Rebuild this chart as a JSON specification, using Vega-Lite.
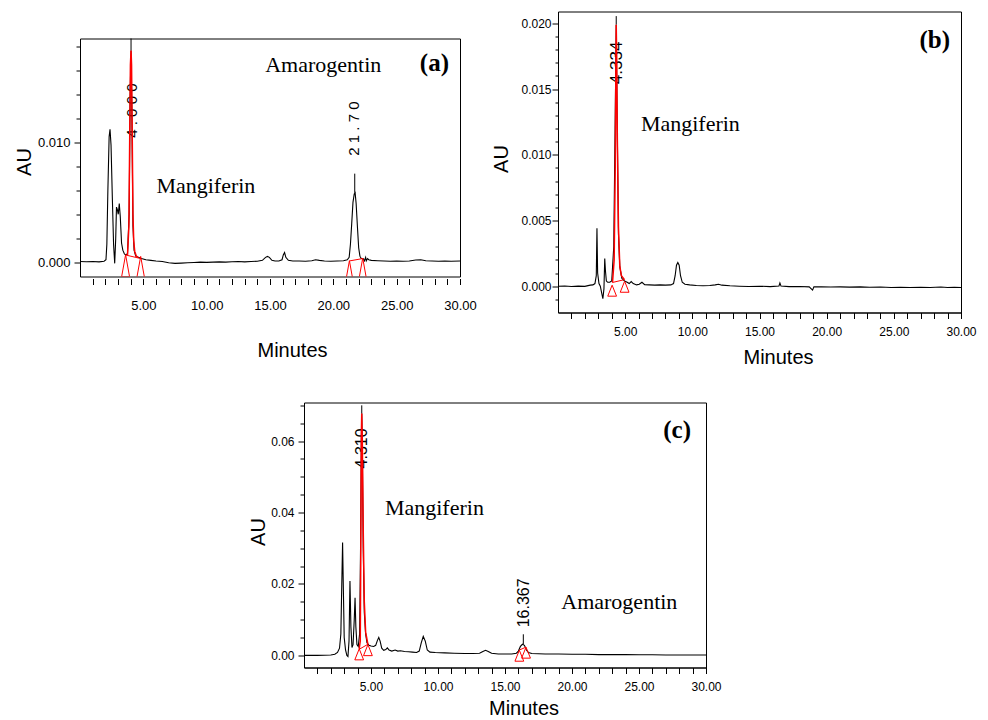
{
  "$schema": "https://vega.github.io/schema/vega-lite/v6.json",
  "padding": {"left": 13, "top": 10.5, "right": 5, "bottom": 0},
  "spacing": 30,
  "config": {
    "view": {"stroke": "#000", "strokeWidth": 1},
    "axis": {"domainColor": "#000", "tickColor": "#000", "labelColor": "#000", "titleColor": "#000", "grid": false,
      "labelFont": "Liberation Sans, Arial, sans-serif", "titleFont": "Liberation Sans, Arial, sans-serif", "titleFontWeight": "normal",
      "labelOverlap": false, "labelFlush": false}
  },
  "vconcat": [
    {
      "hconcat": [
        {
          "vconcat": [
            {"width": 1, "height": 1, "data": {"values": []}, "mark": "point", "view": {"stroke": null}},
            {
              "width": 380, "height": 238,
              "encoding": {
                "x": {"field": "t", "type": "quantitative", "scale": {"domain": [0, 30], "nice": false, "zero": false},
                  "axis": {"title": "Minutes", "values": [1,2,3,4,5,6,7,8,9,10,11,12,13,14,15,16,17,18,19,20,21,22,23,24,25,26,27,28,29,30],
                    "labelExpr": "datum.value % 5 == 0 ? format(datum.value, '.2f') : ''", "tickSize": 6, "domain": false, "offset": 2,
                    "labelFontSize": 13, "labelPadding": 15, "titleFontSize": 20, "titleX": 212, "titleY": 78, "titleBaseline": "alphabetic", "titleAlign": "center"}},
                "y": {"field": "v", "type": "quantitative", "scale": {"domain": [-0.0012, 0.0187], "nice": false, "zero": false},
                  "axis": {"title": "AU", "values": [0, 0.002, 0.004, 0.006, 0.008, 0.01, 0.012, 0.014, 0.016, 0.018],
                    "labelExpr": "(abs(datum.value) < 1e-9 || abs(datum.value - 0.01) < 1e-9) ? format(datum.value, '.3f') : ''",
                    "tickSize": {"condition": {"test": "abs(datum.value) < 1e-9 || abs(datum.value - 0.01) < 1e-9", "value": 6}, "value": 4},
                    "labelFontSize": 13, "labelPadding": 4, "titleFontSize": 20, "titleX": -50, "titleY": 123, "titleBaseline": "alphabetic", "titleAngle": 270, "titleAlign": "center"}}
              },
              "layer": [
                {"data": {"values": [
                  {"t":0,"v":0.00005},{"t":0.5,"v":0.00003},{"t":1,"v":0.00006},{"t":1.5,"v":0.00002},{"t":1.9,"v":0.00008},{"t":2.05,"v":0.0002},{"t":2.12,"v":0.0015},{"t":2.2,"v":0.006},{"t":2.3,"v":0.0105},{"t":2.37,"v":0.0111},{"t":2.45,"v":0.0098},{"t":2.55,"v":0.0055},{"t":2.65,"v":0.0015},{"t":2.74,"v":-0.0001},{"t":2.82,"v":0.002},{"t":2.88,"v":0.0046},{"t":2.95,"v":0.0044},{"t":3.02,"v":0.004},{"t":3.1,"v":0.0049},{"t":3.18,"v":0.0038},{"t":3.28,"v":0.0016},{"t":3.38,"v":0.001},{"t":3.5,"v":0.0007},{"t":3.6,"v":0.0006},{"t":3.75,"v":0.0007},{"t":3.88,"v":0.004},{"t":3.96,"v":0.014},{"t":4.03,"v":0.0177},{"t":4.1,"v":0.012},{"t":4.18,"v":0.003},{"t":4.27,"v":0.001},{"t":4.4,"v":0.0005},{"t":4.6,"v":0.0004},{"t":4.85,"v":0.0003},{"t":5.2,"v":0.0002},{"t":5.6,"v":0.00015},{"t":6,"v":0.0001},{"t":6.5,"v":0.00005},{"t":7,"v":-0.00005},{"t":7.5,"v":-0.0001},{"t":8,"v":-0.00008},{"t":8.5,"v":-0.00005},{"t":9,"v":-0.00003},{"t":9.5,"v":0},{"t":10,"v":-0.00002},{"t":10.5,"v":0},{"t":11,"v":0.00002},{"t":11.5,"v":0},{"t":12,"v":0.00003},{"t":12.5,"v":0.00005},{"t":13,"v":0.00002},{"t":13.5,"v":0.00005},{"t":14,"v":0.00008},{"t":14.4,"v":0.00015},{"t":14.65,"v":0.0004},{"t":14.8,"v":0.00048},{"t":14.95,"v":0.0004},{"t":15.15,"v":0.00015},{"t":15.4,"v":0.0001},{"t":15.7,"v":0.0001},{"t":15.95,"v":0.0002},{"t":16.05,"v":0.0006},{"t":16.15,"v":0.00081},{"t":16.25,"v":0.0004},{"t":16.45,"v":0.00015},{"t":16.8,"v":0.0001},{"t":17.3,"v":0.0001},{"t":17.8,"v":0.00008},{"t":18.3,"v":0.00012},{"t":18.6,"v":0.0002},{"t":18.9,"v":0.00015},{"t":19.3,"v":0.0001},{"t":19.8,"v":0.00008},{"t":20.3,"v":0.0001},{"t":20.8,"v":0.00012},{"t":21.1,"v":0.0002},{"t":21.25,"v":0.0004},{"t":21.35,"v":0.0015},{"t":21.45,"v":0.0032},{"t":21.55,"v":0.005},{"t":21.65,"v":0.0057},{"t":21.72,"v":0.0058},{"t":21.8,"v":0.0049},{"t":21.9,"v":0.003},{"t":22,"v":0.0012},{"t":22.1,"v":0.0005},{"t":22.2,"v":0.0003},{"t":22.35,"v":0.0003},{"t":22.45,"v":0.0001},{"t":22.55,"v":0.0004},{"t":22.6,"v":0.0001},{"t":22.7,"v":0.0003},{"t":22.8,"v":0.0002},{"t":23,"v":0.00015},{"t":23.5,"v":0.00012},{"t":24,"v":0.0001},{"t":24.5,"v":0.00008},{"t":25,"v":0.0001},{"t":25.5,"v":0.00008},{"t":26,"v":0.0001},{"t":26.5,"v":0.00018},{"t":26.9,"v":0.0002},{"t":27.3,"v":0.00012},{"t":27.8,"v":0.0001},{"t":28.3,"v":0.00008},{"t":28.8,"v":0.0001},{"t":29.3,"v":0.00008},{"t":30,"v":0.0001}
                ]}, "mark": {"type": "line", "color": "#000", "strokeWidth": 1.1}},
                {"data": {"values": [{"t":4.03,"v":0.0177,"v2":0.0187},{"t":21.69,"v":0.0058,"v2":0.0074}]},
                  "mark": {"type": "rule", "color": "#000", "strokeWidth": 1}, "encoding": {"y2": {"field": "v2"}}},
                {"data": {"values": [{"t":4.07,"v":0.01267,"label":"4  .  0  0  0"},{"t":21.64,"v":0.01117,"label":"2  1  .  7  0"}]},
                  "mark": {"type": "text", "angle": 270, "align": "center", "baseline": "middle", "font": "Liberation Sans, Arial, sans-serif", "fontSize": 15, "color": "#000"},
                  "encoding": {"text": {"field": "label"}}},
                {"data": {"values": [
                  {"t":3.75,"v":0.0006},{"t":3.86,"v":0.003},{"t":3.93,"v":0.011},{"t":3.98,"v":0.0165},{"t":4.03,"v":0.0177},{"t":4.07,"v":0.0165},{"t":4.12,"v":0.011},{"t":4.18,"v":0.004},{"t":4.24,"v":0.0018},{"t":4.32,"v":0.0009},{"t":4.45,"v":0.0005},{"t":4.6,"v":0.0004}
                ]}, "mark": {"type": "line", "color": "#f00", "strokeWidth": 1.5}},
                {"data": {"values": [{"seg":1,"t":3.6,"v":0.0006},{"seg":1,"t":4.79,"v":0.0003},{"seg":2,"t":21.27,"v":0.0001},{"seg":2,"t":22.32,"v":0.0003}]},
                  "mark": {"type": "line", "color": "#f00", "strokeWidth": 1}, "encoding": {"detail": {"field": "seg"}}},
                {"data": {"values": [{"t":3.6,"v":-0.0003},{"t":4.79,"v":-0.00044},{"t":21.27,"v":-0.0008},{"t":22.32,"v":-0.00058}]},
                  "mark": {"type": "point", "shape": "M0,-1L0.36,1L-0.36,1Z", "size": 484, "filled": false, "color": "#f00", "strokeWidth": 1, "opacity": 1, "clip": true}},
                {"data": {"values": [{"t":6.03,"v":0.00576,"label":"Mangiferin"},{"t":14.62,"v":0.01593,"label":"Amarogentin"}]},
                  "mark": {"type": "text", "align": "left", "baseline": "alphabetic", "font": "Liberation Serif, Times New Roman, serif", "fontSize": 22, "color": "#000"},
                  "encoding": {"text": {"field": "label"}}},
                {"data": {"values": [{"t":29.13,"v":0.01599,"label":"(a)"}]},
                  "mark": {"type": "text", "align": "right", "baseline": "alphabetic", "font": "Liberation Serif, Times New Roman, serif", "fontSize": 25, "fontWeight": "bold", "color": "#000"},
                  "encoding": {"text": {"field": "label"}}}
              ]
            }
          ],
          "spacing": 25
        },
        {
          "width": 403, "height": 301,
          "encoding": {
            "x": {"field": "t", "type": "quantitative", "scale": {"domain": [0, 30], "nice": false, "zero": false},
              "axis": {"title": "Minutes", "values": [1,2,3,4,5,6,7,8,9,10,11,12,13,14,15,16,17,18,19,20,21,22,23,24,25,26,27,28,29,30],
                "labelExpr": "datum.value % 5 == 0 ? format(datum.value, '.2f') : ''", "tickSize": 6,
                "labelFontSize": 12, "labelPadding": 8, "titleFontSize": 20, "titleX": 220, "titleY": 51, "titleBaseline": "alphabetic", "titleAlign": "center"}},
            "y": {"field": "v", "type": "quantitative", "scale": {"domain": [-0.002, 0.0209], "nice": false, "zero": false},
              "axis": {"title": "AU", "values": [-0.001,0,0.001,0.002,0.003,0.004,0.005,0.006,0.007,0.008,0.009,0.01,0.011,0.012,0.013,0.014,0.015,0.016,0.017,0.018,0.019,0.02],
                "labelExpr": "abs(round(datum.value*1000)) % 5 == 0 ? format(datum.value, '.3f') : ''",
                "tickSize": {"condition": {"test": "abs(round(datum.value*1000)) % 5 == 0", "value": 6}, "value": 3},
                "labelFontSize": 12, "labelPadding": 1, "titleFontSize": 20, "titleX": -51, "titleY": 147, "titleBaseline": "alphabetic", "titleAngle": 270, "titleAlign": "center"}}
          },
          "layer": [
            {"data": {"values": [
              {"t":0,"v":0},{"t":0.5,"v":0.00002},{"t":1,"v":-0.00002},{"t":1.5,"v":0.00001},{"t":2,"v":-0.00001},{"t":2.4,"v":0.00008},{"t":2.6,"v":0.0001},{"t":2.75,"v":0.0002},{"t":2.85,"v":0.0008},{"t":2.9,"v":0.0044},{"t":2.95,"v":0.001},{"t":3.05,"v":0.0002},{"t":3.15,"v":0},{"t":3.25,"v":-0.0005},{"t":3.34,"v":-0.00095},{"t":3.42,"v":-0.0002},{"t":3.48,"v":0.0021},{"t":3.53,"v":0.0012},{"t":3.6,"v":0.0004},{"t":3.7,"v":0.0003},{"t":3.85,"v":0.0003},{"t":4,"v":0.0004},{"t":4.15,"v":0.003},{"t":4.25,"v":0.012},{"t":4.334,"v":0.0199},{"t":4.4,"v":0.013},{"t":4.5,"v":0.004},{"t":4.6,"v":0.0015},{"t":4.75,"v":0.0006},{"t":4.95,"v":0.0004},{"t":5.15,"v":0.0003},{"t":5.3,"v":0.0002},{"t":5.45,"v":0.00035},{"t":5.6,"v":0.0002},{"t":5.85,"v":0.0001},{"t":6.05,"v":0.00015},{"t":6.25,"v":0.0003},{"t":6.45,"v":0.00012},{"t":6.8,"v":0.0001},{"t":7.2,"v":0.00008},{"t":7.6,"v":0.0001},{"t":8,"v":0.00008},{"t":8.4,"v":0.0001},{"t":8.6,"v":0.0002},{"t":8.72,"v":0.0008},{"t":8.82,"v":0.0016},{"t":8.92,"v":0.0018},{"t":9.02,"v":0.0016},{"t":9.12,"v":0.0008},{"t":9.25,"v":0.0003},{"t":9.45,"v":0.00015},{"t":9.8,"v":0.0001},{"t":10.3,"v":0.00005},{"t":10.8,"v":0.00003},{"t":11.3,"v":0.00005},{"t":11.7,"v":0.0001},{"t":11.95,"v":0.00015},{"t":12.2,"v":0.00008},{"t":12.8,"v":0.00003},{"t":13.5,"v":0},{"t":14.2,"v":-0.00002},{"t":15,"v":0},{"t":15.8,"v":-0.00003},{"t":16.45,"v":0.00002},{"t":16.52,"v":0.00025},{"t":16.6,"v":0.00001},{"t":17.2,"v":-0.00003},{"t":18,"v":-0.00002},{"t":18.7,"v":-0.00005},{"t":18.95,"v":-0.0003},{"t":19.05,"v":-0.00005},{"t":19.6,"v":-0.00004},{"t":20.3,"v":-0.00006},{"t":21,"v":-0.00005},{"t":21.7,"v":-0.00007},{"t":22.5,"v":-0.00005},{"t":23.2,"v":-0.00008},{"t":24,"v":-0.00006},{"t":24.8,"v":-0.0001},{"t":25.5,"v":-0.00008},{"t":26.2,"v":-0.0001},{"t":27,"v":-0.00008},{"t":27.7,"v":-0.0001},{"t":28.5,"v":-0.00006},{"t":29,"v":-0.0001},{"t":29.5,"v":-0.00008},{"t":30,"v":-0.0001}
            ]}, "mark": {"type": "line", "color": "#000", "strokeWidth": 1.1}},
            {"data": {"values": [{"t":4.334,"v":0.0199,"v2":0.02055}]},
              "mark": {"type": "rule", "color": "#000", "strokeWidth": 1}, "encoding": {"y2": {"field": "v2"}}},
            {"data": {"values": [{"t":4.37,"v":0.01699,"label":"4.334"}]},
              "mark": {"type": "text", "angle": 270, "align": "center", "baseline": "middle", "font": "Liberation Sans, Arial, sans-serif", "fontSize": 17, "color": "#000"},
              "encoding": {"text": {"field": "label"}}},
            {"data": {"values": [
              {"t":4.06,"v":0.0003},{"t":4.18,"v":0.002},{"t":4.26,"v":0.009},{"t":4.31,"v":0.017},{"t":4.334,"v":0.0199},{"t":4.36,"v":0.018},{"t":4.42,"v":0.011},{"t":4.5,"v":0.0045},{"t":4.6,"v":0.0015},{"t":4.72,"v":0.0008},{"t":4.95,"v":0.0005}
            ]}, "mark": {"type": "line", "color": "#f00", "strokeWidth": 1.5}},
            {"data": {"values": [{"seg":1,"t":4.04,"v":0.00028},{"seg":1,"t":4.95,"v":0.0005}]},
              "mark": {"type": "line", "color": "#f00", "strokeWidth": 1}, "encoding": {"detail": {"field": "seg"}}},
            {"data": {"values": [{"t":4.03,"v":-0.00034},{"t":4.96,"v":-0.00004}]},
              "mark": {"type": "point", "shape": "M0,-1L0.8,1L-0.8,1Z", "size": 121, "filled": false, "color": "#f00", "strokeWidth": 1, "opacity": 1}},
            {"data": {"values": [{"t":6.17,"v":0.01178,"label":"Mangiferin"}]},
              "mark": {"type": "text", "align": "left", "baseline": "alphabetic", "font": "Liberation Serif, Times New Roman, serif", "fontSize": 22, "color": "#000"},
              "encoding": {"text": {"field": "label"}}},
            {"data": {"values": [{"t":29.18,"v":0.01815,"label":"(b)"}]},
              "mark": {"type": "text", "align": "right", "baseline": "alphabetic", "font": "Liberation Serif, Times New Roman, serif", "fontSize": 25, "fontWeight": "bold", "color": "#000"},
              "encoding": {"text": {"field": "label"}}}
          ]
        }
      ],
      "spacing": 13
    },
    {
      "hconcat": [
        {"width": 167, "height": 1, "data": {"values": []}, "mark": "point", "view": {"stroke": null}},
        {
          "width": 402, "height": 265,
          "encoding": {
            "x": {"field": "t", "type": "quantitative", "scale": {"domain": [0, 30], "nice": false, "zero": false},
              "axis": {"title": "Minutes", "values": [1,2,3,4,5,6,7,8,9,10,11,12,13,14,15,16,17,18,19,20,21,22,23,24,25,26,27,28,29,30],
                "labelExpr": "datum.value % 5 == 0 ? format(datum.value, '.2f') : ''", "tickSize": 6,
                "labelFontSize": 12, "labelPadding": 8, "titleFontSize": 20, "titleX": 219.5, "titleY": 47, "titleBaseline": "alphabetic", "titleAlign": "center"}},
            "y": {"field": "v", "type": "quantitative", "scale": {"domain": [-0.0034, 0.0708], "nice": false, "zero": false},
              "axis": {"title": "AU", "values": [0,0.005,0.01,0.015,0.02,0.025,0.03,0.035,0.04,0.045,0.05,0.055,0.06,0.065,0.07],
                "labelExpr": "abs(round(datum.value*1000)) % 20 == 0 ? format(datum.value, '.2f') : ''",
                "tickSize": {"condition": {"test": "abs(round(datum.value*1000)) % 20 == 0", "value": 6}, "value": 4},
                "labelFontSize": 12, "labelPadding": 4, "titleFontSize": 20, "titleX": -40, "titleY": 129, "titleBaseline": "alphabetic", "titleAngle": 270, "titleAlign": "center"}}
          },
          "layer": [
            {"data": {"values": [
              {"t":0,"v":0},{"t":0.5,"v":0},{"t":1,"v":0},{"t":1.5,"v":0.00005},{"t":2,"v":0.0001},{"t":2.3,"v":0.0003},{"t":2.5,"v":0.0008},{"t":2.65,"v":0.002},{"t":2.75,"v":0.006},{"t":2.82,"v":0.02},{"t":2.88,"v":0.0316},{"t":2.94,"v":0.018},{"t":3,"v":0.005},{"t":3.1,"v":0.0015},{"t":3.2,"v":0},{"t":3.28,"v":-0.0003},{"t":3.36,"v":0.004},{"t":3.43,"v":0.0208},{"t":3.5,"v":0.008},{"t":3.58,"v":0.0022},{"t":3.66,"v":0.003},{"t":3.75,"v":0.01},{"t":3.81,"v":0.0161},{"t":3.87,"v":0.008},{"t":3.95,"v":0.003},{"t":4.05,"v":0.0025},{"t":4.15,"v":0.006},{"t":4.22,"v":0.03},{"t":4.28,"v":0.06},{"t":4.31,"v":0.0677},{"t":4.36,"v":0.055},{"t":4.42,"v":0.03},{"t":4.5,"v":0.012},{"t":4.6,"v":0.006},{"t":4.7,"v":0.0035},{"t":4.85,"v":0.0028},{"t":5,"v":0.0026},{"t":5.2,"v":0.0025},{"t":5.35,"v":0.0028},{"t":5.48,"v":0.0042},{"t":5.58,"v":0.005},{"t":5.68,"v":0.004},{"t":5.8,"v":0.002},{"t":5.95,"v":0.0014},{"t":6.1,"v":0.0016},{"t":6.22,"v":0.0021},{"t":6.35,"v":0.0015},{"t":6.55,"v":0.0012},{"t":6.8,"v":0.0015},{"t":7,"v":0.0012},{"t":7.2,"v":0.0013},{"t":7.5,"v":0.0011},{"t":7.8,"v":0.001},{"t":8.1,"v":0.0009},{"t":8.4,"v":0.0008},{"t":8.6,"v":0.0012},{"t":8.75,"v":0.0035},{"t":8.9,"v":0.0053},{"t":9.05,"v":0.004},{"t":9.2,"v":0.0015},{"t":9.4,"v":0.0009},{"t":9.8,"v":0.0008},{"t":10.5,"v":0.0007},{"t":11.2,"v":0.0006},{"t":12,"v":0.0005},{"t":12.6,"v":0.0005},{"t":13.1,"v":0.0006},{"t":13.35,"v":0.0011},{"t":13.55,"v":0.0014},{"t":13.75,"v":0.0011},{"t":14,"v":0.0006},{"t":14.5,"v":0.0004},{"t":15,"v":0.0004},{"t":15.5,"v":0.0004},{"t":15.85,"v":0.0006},{"t":16,"v":0.0012},{"t":16.15,"v":0.0025},{"t":16.3,"v":0.0031},{"t":16.45,"v":0.0028},{"t":16.6,"v":0.0015},{"t":16.75,"v":0.0008},{"t":17,"v":0.0005},{"t":18,"v":0.0004},{"t":19,"v":0.0004},{"t":20,"v":0.0003},{"t":21,"v":0.0003},{"t":22,"v":0.0002},{"t":23,"v":0.0002},{"t":24,"v":0.0002},{"t":25,"v":0.00015},{"t":26,"v":0.00015},{"t":27,"v":0.0001},{"t":28,"v":0.0001},{"t":29,"v":0.0001},{"t":30,"v":0.0001}
            ]}, "mark": {"type": "line", "color": "#000", "strokeWidth": 1.1}},
            {"data": {"values": [{"t":4.31,"v":0.0677,"v2":0.07},{"t":16.367,"v":0.0031,"v2":0.0059}]},
              "mark": {"type": "rule", "color": "#000", "strokeWidth": 1}, "encoding": {"y2": {"field": "v2"}}},
            {"data": {"values": [{"t":4.31,"v":0.05795,"label":"4.310"},{"t":16.41,"v":0.0147,"label":"16.367"}]},
              "mark": {"type": "text", "angle": 270, "align": "center", "baseline": "middle", "font": "Liberation Sans, Arial, sans-serif", "fontSize": 16, "color": "#000"},
              "encoding": {"text": {"field": "label"}}},
            {"data": {"values": [
              {"t":4.12,"v":0.0018},{"t":4.2,"v":0.004},{"t":4.24,"v":0.03},{"t":4.28,"v":0.062},{"t":4.31,"v":0.0677},{"t":4.35,"v":0.06},{"t":4.42,"v":0.035},{"t":4.5,"v":0.015},{"t":4.6,"v":0.0065},{"t":4.77,"v":0.0031}
            ]}, "mark": {"type": "line", "color": "#f00", "strokeWidth": 1.5}},
            {"data": {"values": [{"seg":1,"t":4.12,"v":0.0017},{"seg":1,"t":4.77,"v":0.0031},{"seg":2,"t":16.07,"v":0.0015},{"seg":2,"t":16.57,"v":0.0023}]},
              "mark": {"type": "line", "color": "#f00", "strokeWidth": 1}, "encoding": {"detail": {"field": "seg"}}},
            {"data": {"values": [{"t":4.12,"v":0.00028},{"t":4.77,"v":0.00146},{"t":16.07,"v":-0.0001},{"t":16.57,"v":0.00076}]},
              "mark": {"type": "point", "shape": "M0,-1L0.8,1L-0.8,1Z", "size": 121, "filled": false, "color": "#f00", "strokeWidth": 1, "opacity": 1}},
            {"data": {"values": [{"t":6.04,"v":0.03928,"label":"Mangiferin"},{"t":19.2,"v":0.01288,"label":"Amarogentin"}]},
              "mark": {"type": "text", "align": "left", "baseline": "alphabetic", "font": "Liberation Serif, Times New Roman, serif", "fontSize": 22, "color": "#000"},
              "encoding": {"text": {"field": "label"}}},
            {"data": {"values": [{"t":28.88,"v":0.06095,"label":"(c)"}]},
              "mark": {"type": "text", "align": "right", "baseline": "alphabetic", "font": "Liberation Serif, Times New Roman, serif", "fontSize": 25, "fontWeight": "bold", "color": "#000"},
              "encoding": {"text": {"field": "label"}}}
          ]
        }
      ],
      "spacing": 0
    }
  ]
}
